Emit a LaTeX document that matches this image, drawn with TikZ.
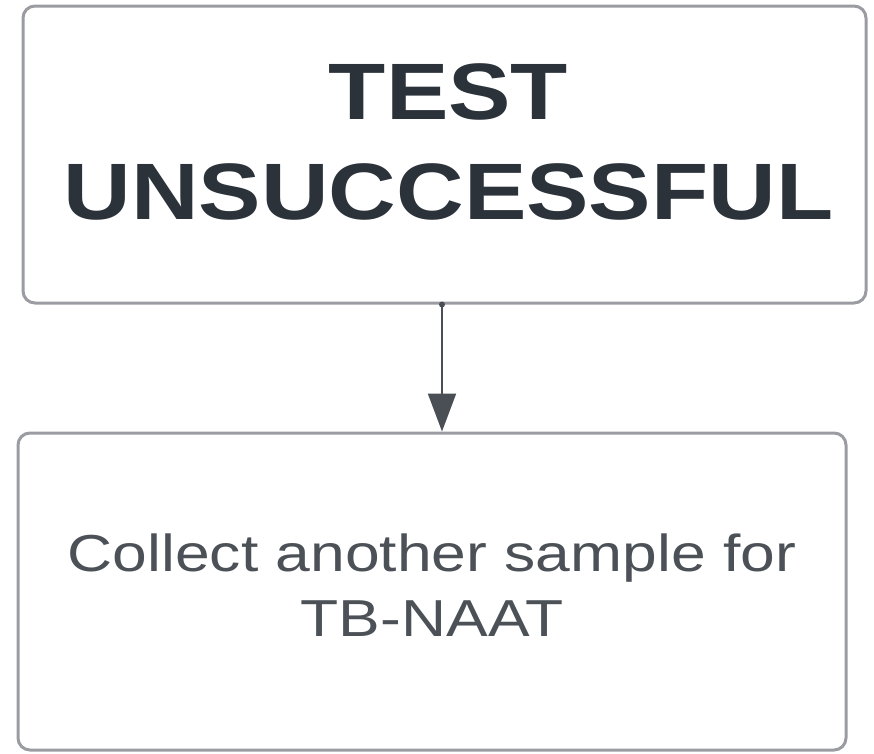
\documentclass[tikz,border=0pt]{standalone}
\usepackage{fontspec}
\setmainfont{Liberation Sans}
\newfontfamily\headfont[FakeStretch=1.17]{Liberation Sans}
\newfontfamily\bodyfont[FakeStretch=1.2]{Liberation Sans}
\usetikzlibrary{arrows.meta,calc,positioning}
\definecolor{ink}{HTML}{2B323A}
\definecolor{edgegray}{HTML}{9A9CA1}
\definecolor{arrgray}{HTML}{4A4F55}
\definecolor{paper}{HTML}{FFFFFF}
\tikzset{
  flowarr/.style={-{Triangle[length=38pt,width=28pt]},line width=2pt,color=arrgray},
  stepcard/.style={draw=edgegray,fill=paper,line width=3pt,rounded corners=12pt},
  headtext/.style={font=\headfont\bfseries\fontsize{80}{100}\selectfont,text=ink,align=center},
  bodytext/.style={font=\bodyfont\fontsize{52}{65}\selectfont,text=ink!85!white,align=center}
}
\begin{document}
\begin{tikzpicture}[x=1pt,y=-1pt]
  \useasboundingbox (0,0) rectangle (874,753);
  \node[stepcard,minimum width=843pt,minimum height=297pt] (fail) at (444.5,154.5) {};
  \node[stepcard,minimum width=828pt,minimum height=317pt] (resample) at (432,591.5) {};
  \node[headtext] (failtxt) at ($(fail.center)+(4,-13)$) {TEST\\UNSUCCESSFUL};
  \node[bodytext] (resampletxt) at ($(resample.center)+(0,-6)$) {Collect another sample for\\TB-NAAT};
  \coordinate (arrstart) at ($(fail.south)+(-2.5,0)$);
  \fill[arrgray] (arrstart) circle (3pt);
  \draw[flowarr] (arrstart) -- (arrstart |- resample.north);
\end{tikzpicture}
\end{document}
